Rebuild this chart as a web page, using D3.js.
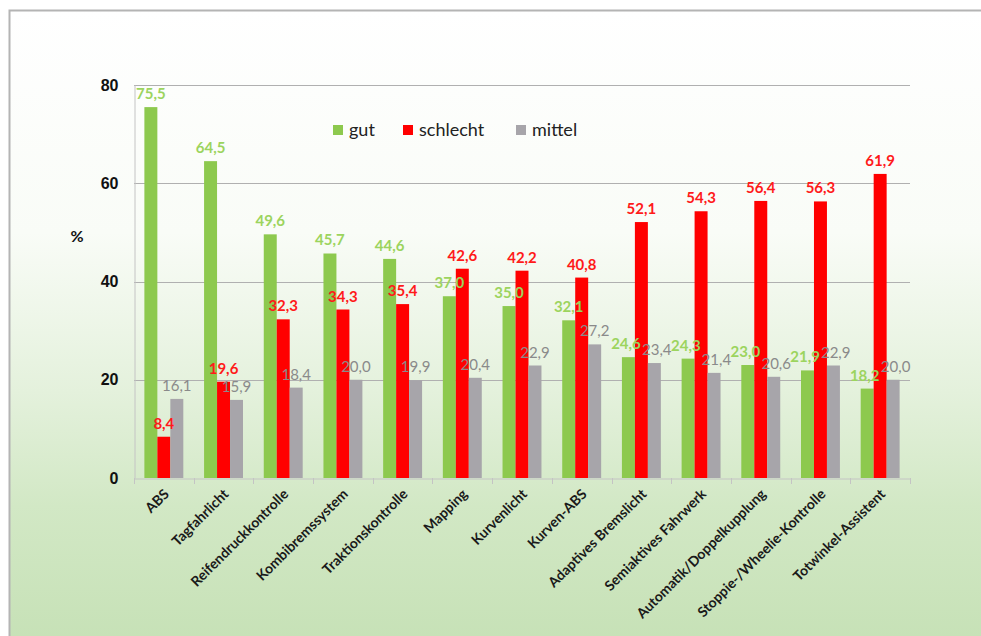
<!DOCTYPE html>
<html>
<head>
<meta charset="utf-8">
<script src="https://cdn.jsdelivr.net/npm/d3@7/dist/d3.min.js"></script>
<style>
  html, body { margin: 0; padding: 0; background: #fff; }
  svg { display: block; font-family: Lato, "Open Sans", sans-serif; }
</style>
</head>
<body>
<svg id="chart" width="981" height="636"></svg>
<script>
// Assistenzsysteme: Bewertung in Prozent
const categories = [
  "ABS", "Tagfahrlicht", "Reifendruckkontrolle", "Kombibremssystem",
  "Traktionskontrolle", "Mapping", "Kurvenlicht", "Kurven-ABS",
  "Adaptives Bremslicht", "Semiaktives Fahrwerk", "Automatik/Doppelkupplung",
  "Stoppie-/Wheelie-Kontrolle", "Totwinkel-Assistent"
];
const seriesNames = ["gut", "schlecht", "mittel"];
const gut      = [75.5, 64.5, 49.6, 45.7, 44.6, 37.0, 35.0, 32.1, 24.6, 24.3, 23.0, 21.9, 18.2];
const schlecht = [8.4, 19.6, 32.3, 34.3, 35.4, 42.6, 42.2, 40.8, 52.1, 54.3, 56.4, 56.3, 61.9];
const mittel   = [16.1, 15.9, 18.4, 20.0, 19.9, 20.4, 22.9, 27.2, 23.4, 21.4, 20.6, 22.9, 20.0];
const yTicks = [0, 20, 40, 60, 80];

const seriesValues = { gut, schlecht, mittel };
const barColors   = { gut: "#8dc94e", schlecht: "#ff0000", mittel: "#a7a5aa" };
const labelColors = { gut: "#9cd45e", schlecht: "#ff1a1a", mittel: "#8a8a8a" };

const svg = d3.select("#chart");
const W = 981, H = 636;

// background panel with frame
const defs = svg.append("defs");
const grad = defs.append("linearGradient")
  .attr("id", "bg").attr("x1", 0).attr("y1", 0).attr("x2", 0).attr("y2", 1);
grad.append("stop").attr("offset", "0%").attr("stop-color", "#ffffff");
grad.append("stop").attr("offset", "35%").attr("stop-color", "#f9fcf7");
grad.append("stop").attr("offset", "60%").attr("stop-color", "#e4f1dc");
grad.append("stop").attr("offset", "78%").attr("stop-color", "#d2e8c5");
grad.append("stop").attr("offset", "100%").attr("stop-color", "#c6e1b6");

svg.append("rect").attr("x", 0).attr("y", 0).attr("width", W).attr("height", H).attr("fill", "#ffffff");
svg.append("rect").attr("x", 9).attr("y", 10).attr("width", W).attr("height", H)
  .attr("fill", "url(#bg)");
svg.append("path").attr("d", `M9.5,${H} V10.5 H${W}`)
  .attr("fill", "none").attr("stroke", "#b4b4b4").attr("stroke-width", 2);

// scales
const x = d3.scaleBand().domain(categories).range([134, 910]).padding(0);
const x1 = d3.scaleBand().domain(seriesNames).range([0, x.bandwidth()])
  .paddingInner(0).paddingOuter(0.8);
const y = d3.scaleLinear().domain([0, 80]).range([478, 85]);

// gridlines
svg.append("g").selectAll("line").data(yTicks.filter(t => t > 0)).join("line")
  .attr("x1", 134).attr("x2", 910)
  .attr("y1", d => Math.round(y(d)) + 0.5).attr("y2", d => Math.round(y(d)) + 0.5)
  .attr("stroke", "#b0b0b0").attr("stroke-width", 1);

// y axis
const yAxis = svg.append("g").attr("transform", "translate(134.5,0)")
  .call(d3.axisLeft(y).tickValues(yTicks).tickSize(0).tickPadding(16).tickFormat(d3.format("d")));
yAxis.select(".domain").attr("stroke", "#c4c4c4");
yAxis.selectAll("text").attr("font-size", 16).attr("font-weight", 700).attr("fill", "#111");

// x axis
const xAxis = svg.append("g").attr("transform", "translate(0,478.5)")
  .call(d3.axisBottom(x).tickSize(0).tickFormat(""));
xAxis.select(".domain").attr("stroke", "#c4c4c4");
xAxis.selectAll(".tick").remove();
svg.append("g").selectAll("line").data(categories.concat([null])).join("line")
  .attr("x1", (d, i) => Math.round(134 + i * x.step()) + 0.5)
  .attr("x2", (d, i) => Math.round(134 + i * x.step()) + 0.5)
  .attr("y1", 478).attr("y2", 484).attr("stroke", "#c4c4c4");

// category labels
svg.append("g").selectAll("text").data(categories).join("text")
  .attr("transform", d => `translate(${x(d) + x.bandwidth() / 2 + 6},${495}) rotate(-45)`)
  .attr("text-anchor", "end")
  .attr("font-size", 14).attr("font-weight", 700).attr("fill", "#1a1a1a")
  .text(d => d);

// "%" axis title
svg.append("text").attr("x", 77).attr("y", 242).attr("text-anchor", "middle")
  .attr("font-size", 16).attr("font-weight", 700).attr("fill", "#111").text("%");

// bars
const groups = svg.append("g").selectAll("g").data(categories).join("g")
  .attr("transform", d => `translate(${x(d)},0)`);

seriesNames.forEach(s => {
  groups.append("rect")
    .attr("x", x1(s))
    .attr("width", x1.bandwidth())
    .attr("y", (d, i) => y(seriesValues[s][i]))
    .attr("height", (d, i) => y(0) - y(seriesValues[s][i]))
    .attr("fill", barColors[s]);
});

// value labels
const fmt = v => d3.format(".1f")(v).replace(".", ",");
seriesNames.forEach(s => {
  groups.append("text")
    .attr("class", "vlabel")
    .attr("x", x1(s) + x1.bandwidth() / 2)
    .attr("y", (d, i) => y(seriesValues[s][i]) - 8)
    .attr("text-anchor", "middle")
    .attr("font-size", 15)
    .attr("font-weight", s === "mittel" ? 400 : 700)
    .attr("fill", labelColors[s])
    .text((d, i) => fmt(seriesValues[s][i]));
});

// nudge value labels of one group apart where they collide
groups.each(function () {
  const labels = d3.select(this).selectAll("text.vlabel").nodes();
  for (let pass = 0; pass < 3; pass++) {
    for (let a = 0; a < labels.length; a++) {
      for (let b = a + 1; b < labels.length; b++) {
        const ba = labels[a].getBBox(), bb = labels[b].getBBox();
        const vOverlap = ba.y < bb.y + bb.height - 3 && bb.y < ba.y + ba.height - 3;
        const hOverlap = ba.x + ba.width + 1 - bb.x;
        if (vOverlap && hOverlap > 0) {
          const shift = hOverlap / 2;
          labels[a].setAttribute("x", +labels[a].getAttribute("x") - shift);
          labels[b].setAttribute("x", +labels[b].getAttribute("x") + shift);
        }
      }
    }
  }
});

// legend
const legendItems = [
  { name: "gut", x: 333 },
  { name: "schlecht", x: 403 },
  { name: "mittel", x: 516 }
];
const legend = svg.append("g");
legendItems.forEach(it => {
  legend.append("rect").attr("x", it.x).attr("y", 125).attr("width", 10).attr("height", 10)
    .attr("fill", barColors[it.name]);
  legend.append("text").attr("x", it.x + 16).attr("y", 136)
    .attr("font-size", 18).attr("fill", "#222").text(it.name);
});
</script>
</body>
</html>
